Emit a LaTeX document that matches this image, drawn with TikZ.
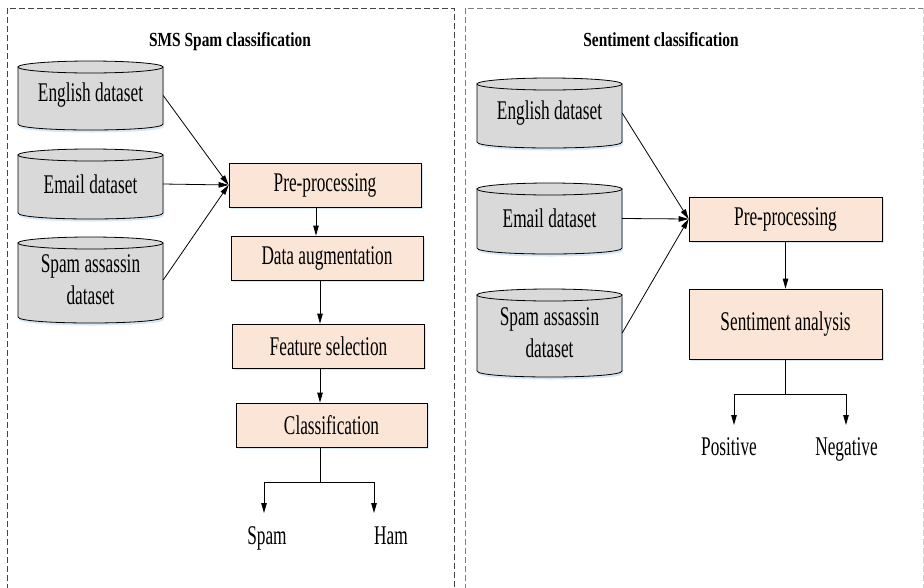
\documentclass[tikz,border=0pt]{standalone}
\usepackage{fontspec}
\setmainfont{Liberation Serif}[FakeStretch=0.64]
\newfontfamily\titlefont{Liberation Serif}[FakeStretch=0.77]
\usetikzlibrary{arrows.meta,shadows,calc}
\definecolor{cylfill}{HTML}{D9D9D9}
\definecolor{boxfill}{HTML}{FBE5D6}
\definecolor{shadowblue}{HTML}{BDD7EE}
\definecolor{panelgray}{HTML}{444444}
\newcommand{\bodyfont}{\fontsize{27}{32}\selectfont}
\tikzset{
  arr/.style={-{Triangle[length=10pt,width=5.5pt]}, line width=0.8pt},
  plainline/.style={line width=0.8pt},
  proc/.style={draw, line width=0.8pt, fill=boxfill, minimum width=192pt, minimum height=44pt,
    inner sep=0pt, font=\bodyfont,
    drop shadow={shadow xshift=1.5pt, shadow yshift=-2pt, fill=shadowblue, opacity=0.6}},
  cylbody/.style={draw, line width=0.8pt, fill=cylfill},
  cylshade/.style={fill=shadowblue, opacity=0.6},
  cyltext/.style={inner sep=0pt, minimum width=145pt, align=center, font=\bodyfont},
  lbl/.style={inner sep=0pt, font=\bodyfont, anchor=base},
  ttl/.style={inner sep=0pt, anchor=base, font=\titlefont\bfseries\fontsize{20}{24}\selectfont},
  panel/.style={draw=panelgray, line width=0.8pt, dash pattern=on 6pt off 3pt},
}
% name, center x, top ellipse y, bottom ellipse y, text
\newcommand{\dbcyl}[5]{%
  \fill[cylshade] (#2-71.5,#3+2.5) -- (#2-71.5,#4+2.5) .. controls (#2-71.5,#4+10.5) and (#2+73.5,#4+10.5) .. (#2+73.5,#4+2.5) -- (#2+73.5,#3+2.5) -- cycle;
  \filldraw[cylbody] (#2-72.5,#3) -- (#2-72.5,#4) .. controls (#2-72.5,#4+8) and (#2+72.5,#4+8) .. (#2+72.5,#4) -- (#2+72.5,#3) -- cycle;
  \filldraw[cylbody] (#2,#3) ellipse [x radius=72.5pt, y radius=6pt];
  \node[cyltext] (#1) at (#2,{(#3+#4)/2}) {#5};
}
\begin{document}
\begin{tikzpicture}[x=1pt,y=-1pt]
\useasboundingbox (0,0) rectangle (924,587);
% panels
\draw[panel] (7,590) -- (7,8) -- (454,8) -- (454,590);
\draw[panel, draw=gray] (465,590) -- (465,8) -- (923,8);
\draw[panel, draw=gray!35] (923,8) -- (923,590);

% ---------- left panel ----------
\node[ttl] (t1) at (230,46) {SMS Spam classification};
\dbcyl{e1}{90.5}{67}{124}{English dataset}
\dbcyl{m1}{90.5}{155}{213}{Email dataset}
\dbcyl{s1}{90.5}{243}{317}{Spam assassin\\dataset}
\node[proc] (pre1) at (325,185) {Pre-processing};
\node[proc] (aug1) at (327,258) {Data augmentation};
\node[proc] (fs1) at (328.5,346) {Feature selection};
\node[proc, minimum width=191pt] (cl1) at (331.5,425) {Classification};
\draw[arr] (e1.east) -- (pre1.west);
\draw[arr] (m1.east) -- (pre1.west);
\draw[arr] (s1.east) -- (pre1.west);
\coordinate (ax1) at (316,0);
\coordinate (ax2) at (320,0);
\draw[arr] (pre1.south -| ax1) -- (aug1.north -| ax1);
\draw[arr] (aug1.south -| ax2) -- (fs1.north -| ax2);
\draw[arr] (fs1.south -| ax2) -- (cl1.north -| ax2);
\coordinate (sp1) at (320,482);
\coordinate (spamend) at (264,513);
\coordinate (hamend) at (374,513);
\draw[plainline] (cl1.south -| ax2) -- (sp1);
\draw[arr] (sp1) -| (spamend);
\draw[arr] (sp1) -| (hamend);
\node[lbl] (spam) at (267,544) {Spam};
\node[lbl] (ham) at (391,544) {Ham};

% ---------- right panel ----------
\node[ttl] (t2) at (661,46) {Sentiment classification};
\dbcyl{e2}{549.5}{84}{142}{English dataset}
\dbcyl{m2}{549.5}{189}{248}{Email dataset}
\dbcyl{s2}{549.5}{295}{371}{Spam assassin\\dataset}
\node[proc, minimum width=193pt] (pre2) at (785.5,219) {Pre-processing};
\node[proc, minimum width=193pt, minimum height=70pt] (sa2) at (785.5,324) {Sentiment analysis};
\draw[arr] (e2.east) -- (pre2.west);
\draw[arr] (m2.east) -- (pre2.west);
\draw[arr] (s2.east) -- (pre2.west);
\draw[arr] (pre2) -- (sa2);
\coordinate (sp2) at (785.5,394);
\coordinate (posend) at (734,425);
\coordinate (negend) at (846,425);
\draw[plainline] (sa2) -- (sp2);
\draw[arr] (sp2) -| (posend);
\draw[arr] (sp2) -| (negend);
\node[lbl] (pos) at (729,455) {Positive};
\node[lbl] (neg) at (846.5,455) {Negative};
\end{tikzpicture}
\end{document}
